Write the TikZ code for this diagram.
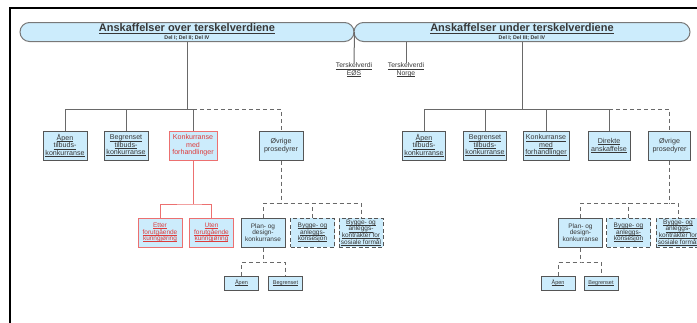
\documentclass[tikz,border=0pt]{standalone}
\usepackage{fontspec}
\setmainfont{Liberation Sans}
\definecolor{boxfill}{RGB}{204,236,252}
\definecolor{boxline}{RGB}{85,85,85}
\definecolor{pillline}{RGB}{120,120,120}
\definecolor{connc}{RGB}{105,105,105}
\definecolor{redline}{RGB}{236,112,112}
\definecolor{redtext}{RGB}{222,60,60}
\definecolor{textc}{RGB}{55,55,55}
% underline drawn under the text box itself
\newcommand\uln[1]{\setbox0=\hbox{#1}\rlap{\rule[-0.17em]{\wd0}{0.07em}}\box0}
\tikzset{
  box/.style={draw=boxline, fill=boxfill, line width=1pt, minimum width=44pt,
    minimum height=29pt, inner sep=0pt, align=center,
    font=\fontsize{7.1}{7.4}\selectfont, text=textc},
  redbox/.style={box, draw=redline, text=redtext},
  lvtwo/.style={box, font=\fontsize{6.5}{6.6}\selectfont},
  redtwo/.style={lvtwo, draw=redline, text=redtext},
  dashbox/.style={lvtwo, dash pattern=on 4pt off 2.5pt},
  smallbox/.style={box, minimum width=34pt, minimum height=14pt,
    font=\fontsize{5.5}{6}\selectfont},
  pill/.style={draw=pillline, fill=boxfill, line width=1pt, rounded corners=9.5pt,
    minimum height=19pt, inner sep=0pt, align=center, text=textc,
    font=\fontsize{11}{7.4}\selectfont},
  conn/.style={draw=connc, line width=1pt},
  dconn/.style={conn, dash pattern=on 4pt off 3pt},
  rconn/.style={draw=redline, line width=1pt},
  lbl/.style={inner sep=0pt, align=center, font=\fontsize{6.8}{7.8}\selectfont, text=textc}
}
\newcommand\pilltext[2]{{\bfseries\uln{#1}}\\{\fontsize{5.3}{6}\selectfont\bfseries #2}}
\begin{document}
\begin{tikzpicture}[x=1pt, y=-1pt]
\useasboundingbox (0,0) rectangle (697,322);
\fill[white] (0,0) rectangle (697,322);
% page frame
\draw[line width=2.6pt, black] (10,323) -- (10,8) -- (698,8);

% headline pills
\node[pill, minimum width=334pt] (pillL) at (187,32) {\pilltext{Anskaffelser over terskelverdiene}{Del I; Del II; Del IV}};
\node[pill, minimum width=336pt] (pillR) at (522,32) {\pilltext{Anskaffelser under terskelverdiene}{Del I; Del III; Del IV}};

% threshold labels
\node[lbl] (teE) at (354,70) {\uln{Terskelverdi}\\\uln{EØS}};
\node[lbl] (teN) at (406,70) {\uln{Terskelverdi}\\\uln{Norge}};
\draw[conn] (pillL.east) -- (teE.north);
\draw[conn] (teN.north |- pillR.south) -- (teN.north);

% ---------- above thresholds ----------
\node[box] (aapenL) at (65,145.5) {\uln{Åpen}\\\uln{tilbuds-}\\\uln{konkurranse}};
\node[box] (begrL) at (126,145.5) {\uln{Begrenset}\\\uln{tilbuds-}\\\uln{konkurranse}};
\node[redbox, minimum width=48pt] (konkL) at (193,145.5) {Konkurranse\\med\\forhandlinger};
\node[box] (ovrL) at (281,145.5) {Øvrige\\prosedyrer};

\node[redtwo] (ettL) at (160,232.5) {\uln{Etter}\\\uln{forutgående}\\\uln{kunngjøring}};
\node[redtwo] (utenL) at (211.5,232.5) {\uln{Uten}\\\uln{forutgående}\\\uln{kunngjøring}};
\node[lvtwo] (planL) at (263,232.5) {Plan- og\\design-\\konkurranse};
\node[dashbox] (konsL) at (312.5,232.5) {\uln{Bygge- og}\\\uln{anleggs-}\\\uln{konsesjon}};
\node[dashbox] (sosL) at (361,232.5) {\uln{Bygge- og}\\\uln{anleggs-}\\\uln{kontrakter for}\\\uln{sosiale formål}};

\node[smallbox] (aapL2) at (241.5,283) {\uln{Åpen}};
\node[smallbox] (begrL2) at (285.5,283) {\uln{Begrenset}};

\coordinate (jL) at (187,109);
\coordinate (rL) at (193,204);
\coordinate (oL) at (281,203);
\coordinate (pL) at (263,262);
\draw[conn] (pillL.south) -- (jL);
\draw[conn] (aapenL.north) |- (konkL.north |- jL) -- (konkL.north);
\draw[conn] (begrL.north) -- (begrL.north |- jL);
\draw[dconn] (konkL.north |- jL) -| (ovrL.north);
\draw[rconn] (konkL.south) -- (rL);
\draw[rconn] (ettL.north) |- (rL) -| (utenL.north);
\draw[dconn] (ovrL.south) -- (oL);
\draw[dconn] (planL.north) |- (oL) -| (sosL.north);
\draw[dconn] (konsL.north) -- (konsL.north |- oL);
\draw[dconn] (planL.south) -- (pL);
\draw[dconn] (aapL2.north) |- (pL) -| (begrL2.north);

% ---------- below thresholds ----------
\node[box, minimum width=43pt] (aapenR) at (424,145.5) {\uln{Åpen}\\\uln{tilbuds-}\\\uln{konkurranse}};
\node[box, minimum width=43pt] (begrR) at (485,145.5) {\uln{Begrenset}\\\uln{tilbuds-}\\\uln{konkurranse}};
\node[box, minimum width=46pt] (konkR) at (546,145.5) {\uln{Konkurranse}\\\uln{med}\\\uln{forhandlinger}};
\node[box, minimum width=42pt] (dirR) at (609,145.5) {\uln{Direkte}\\\uln{anskaffelse}};
\node[box, minimum width=42pt] (ovrR) at (669.5,145.5) {Øvrige\\prosedyrer};

\node[lvtwo] (planR) at (580.5,232.5) {Plan- og\\design-\\konkurranse};
\node[dashbox] (konsR) at (628.5,232.5) {\uln{Bygge- og}\\\uln{anleggs-}\\\uln{konsesjon}};
\node[dashbox] (sosR) at (678,232.5) {\uln{Bygge- og}\\\uln{anleggs-}\\\uln{kontrakter for}\\\uln{sosiale formål}};

\node[smallbox] (aapR2) at (558,283) {\uln{Åpen}};
\node[smallbox] (begrR2) at (601,283) {\uln{Begrenset}};

\coordinate (jR) at (522,109);
\coordinate (oR) at (669.5,203);
\coordinate (pR) at (580.5,262);
\draw[conn] (pillR.south) -- (jR);
\draw[conn] (aapenR.north) |- (dirR.north |- jR) -- (dirR.north);
\draw[conn] (begrR.north) -- (begrR.north |- jR);
\draw[conn] (konkR.north) -- (konkR.north |- jR);
\draw[dconn] (dirR.north |- jR) -| (ovrR.north);
\draw[dconn] (ovrR.south) -- (oR);
\draw[dconn] (planR.north) |- (oR) -| (sosR.north);
\draw[dconn] (konsR.north) -- (konsR.north |- oR);
\draw[dconn] (planR.south) -- (pR);
\draw[dconn] (aapR2.north) |- (pR) -| (begrR2.north);
\end{tikzpicture}
\end{document}
